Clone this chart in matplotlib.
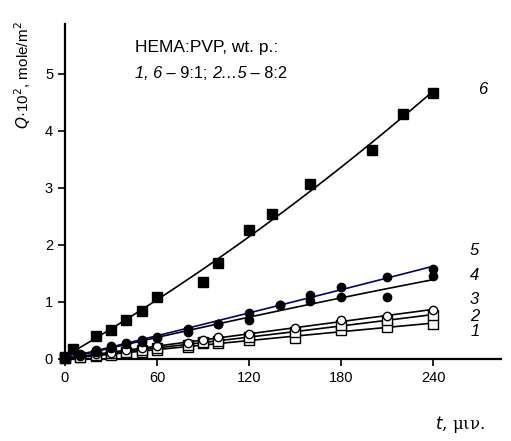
import numpy as np
import matplotlib.pyplot as plt

# time, min
t6 = [0, 5, 20, 30, 40, 50, 60, 90, 100, 120, 135, 160, 200, 220, 240]
q6 = [0.03, 0.18, 0.40, 0.51, 0.68, 0.84, 1.09, 1.35, 1.68, 2.26, 2.54, 3.07, 3.67, 4.30, 4.67]

t45 = [0, 10, 20, 30, 40, 50, 60, 80, 100, 120, 140, 160, 180, 210, 240]
q5 = [0.03, 0.09, 0.15, 0.22, 0.28, 0.33, 0.38, 0.52, 0.62, 0.80, 0.95, 1.13, 1.27, 1.43, 1.58]
q4 = [0.03, 0.07, 0.12, 0.19, 0.26, 0.30, 0.36, 0.48, 0.61, 0.68, 0.95, 1.02, 1.09, 1.09, 1.45]

t123 = [0, 10, 20, 30, 40, 50, 60, 80, 90, 100, 120, 150, 180, 210, 240]
q3 = [0.02, 0.05, 0.08, 0.11, 0.15, 0.19, 0.22, 0.28, 0.33, 0.38, 0.44, 0.55, 0.68, 0.76, 0.86]
q2 = [0.02, 0.04, 0.07, 0.10, 0.13, 0.16, 0.19, 0.25, 0.29, 0.32, 0.38, 0.48, 0.60, 0.68, 0.77]
q1 = [0.02, 0.03, 0.06, 0.07, 0.10, 0.12, 0.15, 0.21, 0.28, 0.28, 0.33, 0.37, 0.50, 0.56, 0.62]

curve_labels = ["1", "2", "3", "4", "5", "6"]
label_pos = [(264, 0.49), (264, 0.74), (264, 1.04), (264, 1.47), (264, 1.91), (269, 4.72)]

plt.rcParams['font.family'] = ['Liberation Sans', 'DejaVu Sans']

fig = plt.figure(figsize=(5.11, 4.41), dpi=100)
ax = fig.add_axes([0.127, 0.186, 0.853, 0.760])

series = [
    (t123, q1, 's', 'none', 'black'),
    (t123, q2, 's', 'none', 'black'),
    (t123, q3, 'o', 'none', 'black'),
    (t45, q4, 'o', 'black', 'black'),
    (t45, q5, 'o', 'black', '#000080'),
    (t6, q6, 's', 'black', 'black'),
]

tt = np.linspace(0, 240, 100)
for t, q, mk, fc, lc in series:
    t = np.asarray(t, float)
    q = np.asarray(q, float)
    # trend line through the points
    p = np.polyfit(t, q, 2)
    ax.plot(tt, np.polyval(p, tt), color=lc, lw=1.2, zorder=2)
    ax.plot(t, q, mk, ms=6.5 if mk == 's' else 6, mfc='white' if fc == 'none' else fc,
            mec='black', mew=1.0, ls='', zorder=3, clip_on=False)

# curve numbers at right
for lab, (xx, yy) in zip(curve_labels, label_pos):
    ax.text(xx, yy, lab, fontsize=12, style='italic', ha='left', va='center')

ax.text(0.16, 0.928, "HEMA:PVP, wt. p.:", transform=ax.transAxes, fontsize=12.5,
        ha='left', va='center')

# second line: mixed italic / upright pieces placed one after another
pieces = [("1, 6", 'italic'), (" – 9:1; ", 'normal'), ("2…5", 'italic'), (" – 8:2", 'normal')]
renderer = fig.canvas.get_renderer()
x0, y0 = ax.transAxes.transform((0.16, 0.851))
inv = fig.transFigure.inverted()
for s, st in pieces:
    fx, fy = inv.transform((x0, y0))
    tx = fig.text(fx, fy, s, fontsize=11.8, style=st, ha='left', va='center')
    x0 += tx.get_window_extent(renderer).width

ax.set_xlim(0, 284)
ax.set_ylim(0, 5.88)
ax.set_xticks([0, 60, 120, 180, 240])
ax.set_yticks([0, 1, 2, 3, 4, 5])
ax.tick_params(direction='out', length=5, width=1.2, labelsize=10.5)
for s in ['top', 'right']:
    ax.spines[s].set_visible(False)
for s in ['left', 'bottom']:
    ax.spines[s].set_linewidth(1.6)

fig.text(0.045, 0.83, r"$Q$·10$^2$, mole/m$^2$", rotation=90, fontsize=11,
         ha='center', va='center')
fig.text(0.90, 0.037, r"$t$, μιν.", fontsize=12, family=['DejaVu Serif'],
         ha='center', va='center')

fig.savefig('out.png', dpi=100)
